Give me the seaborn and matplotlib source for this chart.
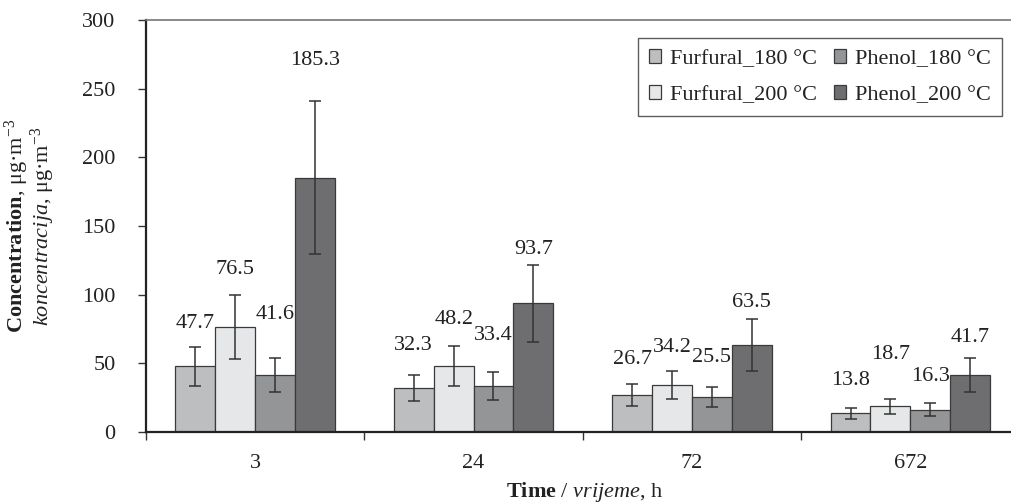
import numpy as np
import pandas as pd
import matplotlib
matplotlib.use("Agg")
import matplotlib.pyplot as plt
import seaborn as sns

# ---- data ----
times = ["3", "24", "72", "672"]
series = ["Furfural_180 °C", "Furfural_200 °C", "Phenol_180 °C", "Phenol_200 °C"]
furfural_180 = [47.7, 32.3, 26.7, 13.8]
furfural_200 = [76.5, 48.2, 34.2, 18.7]
phenol_180 = [41.6, 33.4, 25.5, 16.3]
phenol_200 = [185.3, 93.7, 63.5, 41.7]
err_furfural_180 = [14.0, 9.5, 8.0, 4.0]
err_furfural_200 = [23.0, 14.5, 10.0, 5.5]
err_phenol_180 = [12.5, 10.0, 7.5, 5.0]
err_phenol_200 = [55.5, 28.0, 19.0, 12.5]
colors = ["#bdbec0", "#e6e7e8", "#939598", "#6d6e71"]

values = [furfural_180, furfural_200, phenol_180, phenol_200]
errors = [err_furfural_180, err_furfural_200, err_phenol_180, err_phenol_200]

# style: extra vertical nudge (px, positive = up) of each value label,
# per series and time, mimicking the hand-placed labels of the original
label_nudge_px = [
    [-5, 0, -4, -2],
    [-3, -3, -5, 15],
    [14, 8, 0, -3],
    [12, -14, -13, -9],
]

rows = []
for s, vals in zip(series, values):
    for t, v in zip(times, vals):
        rows.append({"time": t, "series": s, "value": v})
df = pd.DataFrame(rows)

sns.set_theme(style="white")
plt.rcParams["font.family"] = ["Liberation Serif", "DejaVu Serif"]
plt.rcParams["mathtext.fontset"] = "custom"
plt.rcParams["mathtext.rm"] = "Liberation Serif"
plt.rcParams["mathtext.it"] = "Liberation Serif:italic"
plt.rcParams["mathtext.bf"] = "Liberation Serif:bold"

FS = 16
TXT = "#222222"
PX = 72 / 100  # points per pixel

fig = plt.figure(figsize=(10.11, 5.03), dpi=100)
ax = fig.add_axes([146 / 1011, 71 / 503, (1019.5 - 146) / 1011, 412 / 503])

sns.barplot(data=df, x="time", y="value", hue="series", order=times,
            hue_order=series, palette=colors, width=0.73, gap=0,
            edgecolor="#3a3a3a", linewidth=0.9, errorbar=None, ax=ax,
            legend=True)

for cont, errs, vals, nudges in zip(ax.containers, errors, values, label_nudge_px):
    xs = [b.get_x() + b.get_width() / 2 for b in cont]
    ax.errorbar(xs, vals, yerr=errs, fmt="none", ecolor="#333333",
                elinewidth=1.1, capsize=4, capthick=1.1, zorder=5)
    for x, v, e, n in zip(xs, vals, errs, nudges):
        ax.annotate(f"{v:.1f}", xy=(x, v + e), xytext=(0, (29 + n) * PX),
                    textcoords="offset points", ha="center", va="center",
                    fontsize=FS, color=TXT)

ax.set_ylim(0, 300)
ax.set_xlim(-0.5, 3.5)
ax.set_yticks(np.arange(0, 301, 50))
ax.tick_params(axis="y", which="major", direction="out", length=6, width=1,
               color="#333333", pad=16, labelsize=FS, left=True)
ax.tick_params(axis="x", which="major", length=0, pad=16, labelsize=FS)
ax.set_xticks([-0.5, 0.5, 1.5, 2.5], minor=True)
ax.tick_params(axis="x", which="minor", direction="out", length=6, width=1,
               color="#333333", bottom=True)
for lbl in ax.get_xticklabels() + ax.get_yticklabels():
    lbl.set_color(TXT)

ax.spines["right"].set_visible(False)
ax.spines["top"].set_color("#777777")
ax.spines["top"].set_linewidth(1.2)
ax.spines["left"].set_color("#222222")
ax.spines["left"].set_linewidth(1.6)
ax.spines["bottom"].set_color("#222222")
ax.spines["bottom"].set_linewidth(1.6)
ax.set_xlabel("")
ax.set_ylabel("")

handles, labels = ax.get_legend_handles_labels()
leg = ax.legend(handles, labels, ncol=2, loc="upper left",
                bbox_to_anchor=(638 / 1011, 1 - 38 / 503),
                bbox_transform=fig.transFigure, frameon=True, fancybox=False,
                edgecolor="#333333", fontsize=FS, handlelength=0.55,
                handleheight=0.55, handletextpad=0.4, columnspacing=0.75,
                borderpad=0.5, labelspacing=0.75, borderaxespad=0)
leg.get_frame().set_linewidth(1.0)
for t in leg.get_texts():
    t.set_color(TXT)

fig.text(17 / 1011, 1 - 226 / 503, r"$\mathbf{Concentration}$, μg·m$^{-3}$",
         rotation=90, ha="center", va="center", fontsize=FS, color=TXT)
fig.text(43 / 1011, 1 - 226 / 503, r"$\mathit{koncentracija}$, μg·m$^{-3}$",
         rotation=90, ha="center", va="center", fontsize=FS, color=TXT)
fig.text(585 / 1011, 1 - 492 / 503, r"$\mathbf{Time}$ / $\mathit{vrijeme}$, h",
         ha="center", va="center", fontsize=FS, color=TXT)

fig.savefig("out.png", dpi=100)
